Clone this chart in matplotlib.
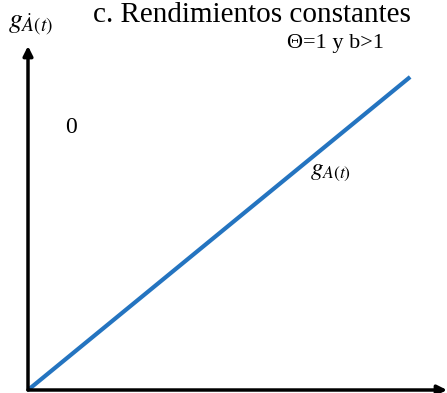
import matplotlib
matplotlib.use("Agg")
import matplotlib.pyplot as plt

# data
line_x = [0.0, 0.912]
line_y = [0.0, 0.910]
title = "c. Rendimientos constantes"
cond_label = "Θ=1 y b>1"
zero_label = "0"
line_label = r"$g_{A(t)}$"
y_label = r"$g_{\dot{A}(t)}$"

plt.rcParams['mathtext.fontset'] = 'stix'
W, H = 447, 393
fig = plt.figure(figsize=(W/100, H/100), dpi=100)
ox, oy = 28, 390  # origin in pixels (top-left based)
top, right = 46, 447
ax = fig.add_axes([ox/W, (H-oy)/H, (right-ox)/W, (oy-top)/H])
ax.set_xlim(0, 1)
ax.set_ylim(0, 1)
ax.axis('off')

ax.plot(line_x, line_y, color='#2474c0', lw=3, solid_capstyle='butt', clip_on=False)

# axes arrows
ax.annotate('', xy=(0, 1.0), xytext=(0, 0), xycoords='axes fraction',
            arrowprops=dict(arrowstyle='-|>', color='black', lw=2.5,
                            mutation_scale=14, shrinkA=0, shrinkB=0))
ax.annotate('', xy=(1.0, 0), xytext=(0, 0), xycoords='axes fraction',
            arrowprops=dict(arrowstyle='-|>', color='black', lw=2.5,
                            mutation_scale=14, shrinkA=0, shrinkB=0))

serif = 'Liberation Serif'
fig.text(252/W, 1 - 22/H, title, family=serif, fontsize=21, ha='center', va='baseline')
fig.text(287/W, 1 - 48/H, cond_label, family=serif, fontsize=16, ha='left', va='baseline')
fig.text(65/W, 1 - 133/H, zero_label, family=serif, fontsize=17, ha='left', va='baseline')
fig.text(310/W, 1 - 175/H, line_label, fontsize=18, ha='left', va='baseline')
fig.text(8/W, 1 - 28/H, y_label, fontsize=20, ha='left', va='baseline')

fig.savefig('out.png', dpi=100)
